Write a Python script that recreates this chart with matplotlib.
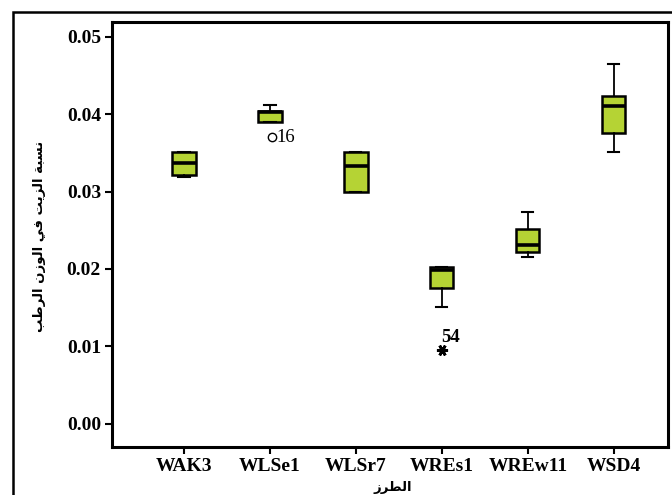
import matplotlib
matplotlib.use("Agg")
import matplotlib.pyplot as plt
from matplotlib.patches import Rectangle

# ---- data ----
categories = ["WAK3", "WLSe1", "WLSr7", "WREs1", "WREw11", "WSD4"]
whisker_low = [0.0319, 0.0390, 0.0299, 0.0151, 0.0215, 0.0351]
q1 = [0.0322, 0.0390, 0.0299, 0.0176, 0.0222, 0.0375]
median = [0.0337, 0.0403, 0.0333, 0.0199, 0.0231, 0.0410]
q3 = [0.0351, 0.0404, 0.0351, 0.0203, 0.0252, 0.0423]
whisker_high = [0.0351, 0.0412, 0.0351, 0.0203, 0.0273, 0.0465]
outlier_cat = [2, 4]
outlier_val = [0.0370, 0.0095]
outlier_marker = ["o", "*"]
outlier_label = ["16", "54"]
yticks = [0.00, 0.01, 0.02, 0.03, 0.04, 0.05]
ylabel_text = "نسبة الزيت في الوزن الرطب"
xlabel_text = "الطرز"

# ---- minimal Arabic shaping (presentation forms) ----
FORMS = {
    "ا": ("\uFE8D", "\uFE8E", None, None),
    "ب": ("\uFE8F", "\uFE90", "\uFE91", "\uFE92"),
    "ة": ("\uFE93", "\uFE94", None, None),
    "ت": ("\uFE95", "\uFE96", "\uFE97", "\uFE98"),
    "ر": ("\uFEAD", "\uFEAE", None, None),
    "ز": ("\uFEAF", "\uFEB0", None, None),
    "س": ("\uFEB1", "\uFEB2", "\uFEB3", "\uFEB4"),
    "ط": ("\uFEC1", "\uFEC2", "\uFEC3", "\uFEC4"),
    "ف": ("\uFED1", "\uFED2", "\uFED3", "\uFED4"),
    "ل": ("\uFEDD", "\uFEDE", "\uFEDF", "\uFEE0"),
    "ن": ("\uFEE5", "\uFEE6", "\uFEE7", "\uFEE8"),
    "و": ("\uFEED", "\uFEEE", None, None),
    "ي": ("\uFEF1", "\uFEF2", "\uFEF3", "\uFEF4"),
}


def shape(text):
    out = []
    n = len(text)
    for i, ch in enumerate(text):
        if ch not in FORMS:
            out.append(ch)
            continue
        f = FORMS[ch]
        prev = text[i - 1] if i > 0 else None
        nxt = text[i + 1] if i < n - 1 else None
        join_prev = prev in FORMS and FORMS[prev][2] is not None
        join_next = nxt in FORMS and f[2] is not None
        if join_prev and join_next:
            g = f[3]
        elif join_prev:
            g = f[1]
        elif join_next:
            g = f[2]
        else:
            g = f[0]
        out.append(g)
    return "".join(out)[::-1]


fig = plt.figure(figsize=(6.72, 4.95), dpi=100)
W, H = 672, 495
ax = fig.add_axes([112 / W, 1 - 447 / H, (668 - 112) / W, (447 - 22) / H])

green = "#b5d334"
pos = list(range(1, len(categories) + 1))
stats = []
for i in range(len(categories)):
    stats.append(dict(med=median[i], q1=q1[i], q3=q3[i],
                      whislo=whisker_low[i], whishi=whisker_high[i], fliers=[]))
ax.bxp(stats, positions=pos, widths=0.27, patch_artist=True, showfliers=False,
       boxprops=dict(facecolor=green, edgecolor="black", linewidth=1.8),
       medianprops=dict(color="black", linewidth=2.6),
       whiskerprops=dict(color="black", linewidth=1.3),
       capprops=dict(color="black", linewidth=1.5), capwidths=0.13)

for c, v, m, lab in zip(outlier_cat, outlier_val, outlier_marker, outlier_label):
    if m == "o":
        ax.plot(c + 0.02, v, marker="o", ms=6, mfc="none", mec="black", mew=1.0)
        ax.text(c + 0.08, v, lab, fontsize=13.5, family="Liberation Serif",
                va="center", ha="left")
    else:
        ax.plot(c, v, marker=(6, 2, 90), ms=8, mec="black", mew=2.0)
        ax.text(c - 0.01, v + 0.0017, lab, fontsize=13.5, family="Liberation Serif",
                fontweight="bold", va="center", ha="left")

ax.set_xlim(0.163, 6.63)
ax.set_ylim(-0.003, 0.0519)
ax.set_xticks(pos)
ax.set_xticklabels(categories)
ax.set_yticks(yticks)
ax.set_yticklabels([f"{t:.2f}" for t in yticks])
for lab in ax.get_xticklabels() + ax.get_yticklabels():
    lab.set_family("Liberation Serif")
    lab.set_fontweight("bold")
    lab.set_fontsize(14)
ax.tick_params(axis="both", direction="out", length=5, width=1.5, color="black")
ax.tick_params(axis="x", pad=3)
ax.tick_params(axis="y", pad=3)
for s in ax.spines.values():
    s.set_linewidth(2.2)
    s.set_color("black")

fig.text(40 / W, 1 - 236 / H, shape(ylabel_text), rotation=90, ha="center",
         va="center", fontsize=9.5, fontweight="bold", family="DejaVu Sans")
fig.text(393 / W, 1 - 487 / H, shape(xlabel_text), ha="center", va="center",
         fontsize=9.5, fontweight="bold", family="DejaVu Sans")

# outer frame
fig.patches.append(Rectangle((13 / W, -0.1), 1.2, 1 - 12 / H + 0.1,
                             transform=fig.transFigure, fill=False,
                             edgecolor="black", linewidth=1.8))

fig.savefig("out.png", dpi=100)
